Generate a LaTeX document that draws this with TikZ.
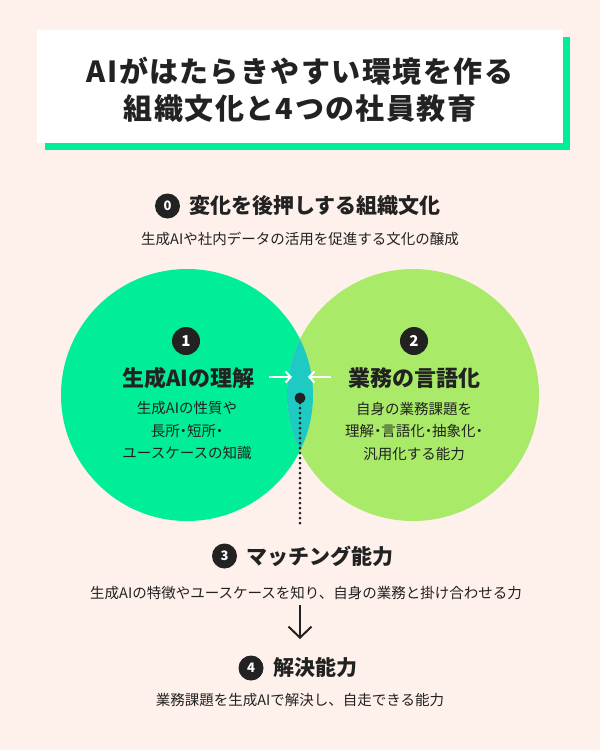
\documentclass[tikz,border=0pt]{standalone}
\usepackage{fontspec}
\setmainfont{Noto Sans CJK JP}
\newfontfamily\pfont{Noto Sans CJK JP}[RawFeature=+palt]
\newfontfamily\titlefont{Noto Sans CJK JP}[LetterSpace=5]
\newcommand{\nkg}{{\pfont ・}}
\usetikzlibrary{arrows.meta}
\definecolor{bgc}{HTML}{FEF0EA}
\definecolor{gone}{HTML}{00EE98}
\definecolor{gtwo}{HTML}{A9EA69}
\definecolor{lensc}{HTML}{1DCBC2}
\definecolor{dark}{HTML}{222222}
\tikzset{
  titletext/.style={font=\titlefont\fontsize{29}{34}\selectfont\bfseries, text=dark, inner sep=0},
  sechead/.style={font=\fontsize{21}{25}\selectfont\bfseries, text=dark, inner sep=0, anchor=west},
  circhead/.style={font=\fontsize{22}{26}\selectfont\bfseries, text=dark, inner sep=0},
  subtext/.style={font=\fontsize{14.5}{18}\selectfont, text=dark, inner sep=0},
  circbody/.style={font=\fontsize{14.5}{22.5}\selectfont, text=dark, inner sep=0, align=center},
  badge/.style={circle, fill=dark, text=white, inner sep=0, minimum size=25pt, font=\fontsize{13}{13}\selectfont\bfseries},
  bigbadge/.style={badge, minimum size=28pt, font=\fontsize{15}{15}\selectfont\bfseries},
  whitearrow/.style={draw=white, line width=2pt, -{Straight Barb[length=5pt,width=11pt,line width=2pt]}},
  downarrow/.style={draw=dark, line width=2pt, -{Straight Barb[length=11pt,width=23pt,line width=2pt]}},
  dotline/.style={draw=dark, line width=3pt, line cap=round, dash pattern=on 0pt off 5pt}
}
\begin{document}
\begin{tikzpicture}[x=1pt,y=-1pt]
\useasboundingbox (0,0) rectangle (600,750);
\fill[bgc] (0,0) rectangle (600,750);
% title
\fill[gone] (45,37) rectangle (570,150);
\fill[white] (37,30) rectangle (563,143);
\node[titletext] (t1) at (300,71) {AIがはたらきやすい環境を作る};
\node[titletext] (t2) at (300,109) {組織文化と4つの社員教育};
% section 0
\node[badge] (b0) at (167.5,206) {0};
\node[sechead] (h0) at (189,206) {変化を後押しする組織文化};
\node[subtext] (s0) at (300,239) {生成AIや社内データの活用を促進する文化の醸成};
% circles
\fill[gone] (187,395) circle[radius=126];
\fill[gtwo] (413,395) circle[radius=126];
\begin{scope}
  \clip (187,395) circle[radius=126];
  \fill[lensc] (413,395) circle[radius=126];
\end{scope}
\node[bigbadge] (b1) at (186,341) {1};
\node[bigbadge] (b2) at (414,341) {2};
\node[circhead] (h1) at (188.5,378) {生成AIの理解};
\node[circhead] (h2) at (414.5,378) {業務の言語化};
\node[circbody] (c1) at (187,431) {生成AIの性質や\\長所\nkg 短所\nkg\\ユースケースの知識};
\node[circbody] (c2) at (414,431) {自身の業務課題を\\理解\nkg 言語化\nkg 抽象化\nkg\\汎用化する能力};
\coordinate (la) at (269,377);
\coordinate (lb) at (292,377);
\coordinate (ra) at (331,377);
\coordinate (rb) at (308,377);
\draw[whitearrow] (la) -- (lb);
\draw[whitearrow] (ra) -- (rb);
\node[circle, fill=dark, inner sep=0, minimum size=11pt] (dot) at (300,398) {};
\coordinate (dend) at (300,523);
\draw[dotline] (dot.center) -- (dend);
% section 3
\node[badge] (b3) at (224.5,556) {3};
\node[sechead] (h3) at (246,556) {マッチング能力};
\node[subtext] (s3) at (306,593) {生成AIの特徴やユースケースを知り、自身の業務と掛け合わせる力};
\coordinate (da) at (300,605);
\coordinate (db) at (300,639);
\draw[downarrow] (da) -- (db);
% section 4
\node[badge] (b4) at (251,668) {4};
\node[sechead] (h4) at (273,668) {解決能力};
\node[subtext] (s4) at (300,700) {業務課題を生成AIで解決し、自走できる能力};
\end{tikzpicture}
\end{document}
